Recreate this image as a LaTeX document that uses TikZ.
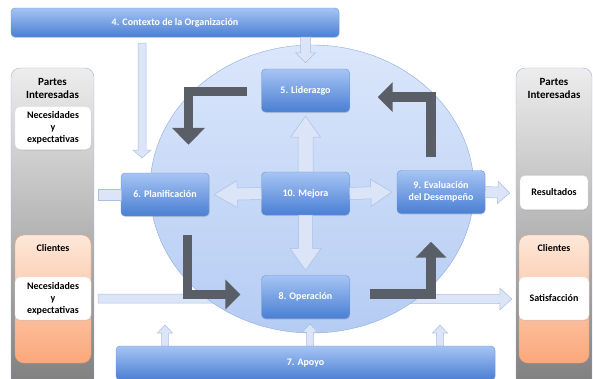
\documentclass[tikz,border=0pt]{standalone}
\usepackage{fontspec}
\setmainfont{Carlito}
\usetikzlibrary{shadows,arrows.meta,shapes,positioning,calc}
\definecolor{boxtop}{HTML}{A6C4F4}
\definecolor{boxbot}{HTML}{4A7FD3}
\definecolor{boxline}{HTML}{6C94D6}
\definecolor{circtop}{HTML}{DAE6FB}
\definecolor{circbot}{HTML}{B5CCF3}
\definecolor{circline}{HTML}{8EAADB}
\definecolor{lightfill}{HTML}{DCE5F7}
\definecolor{lightline}{HTML}{A9BFE6}
\definecolor{darkarr}{HTML}{5A5E66}
\definecolor{graytop}{HTML}{EDEDED}
\definecolor{graybot}{HTML}{7B7B7B}
\definecolor{panelline}{HTML}{9DB2D4}
\definecolor{ortop}{HTML}{FDE8D9}
\definecolor{orbot}{HTML}{FBA77A}
\definecolor{orline}{HTML}{F2A574}
\tikzset{
box/.style={draw=boxline,rounded corners=4pt,top color=boxtop,bottom color=boxbot,text=white,font=\fontsize{10}{12}\selectfont\bfseries,align=center,minimum width=88pt,minimum height=43pt,inner sep=1pt,drop shadow={opacity=0.25,shadow xshift=0.5pt,shadow yshift=-1pt}},
panel/.style={draw=panelline,rounded corners=9pt,top color=graytop,bottom color=graybot,minimum width=#1,minimum height=330pt,inner sep=0pt},
orbox/.style={draw=orline,rounded corners=9pt,top color=ortop,bottom color=orbot,minimum width=#1,minimum height=128pt,inner sep=0pt},
wbox/.style={draw=black!12,fill=white,rounded corners=5pt,minimum width=#1,minimum height=43pt,align=center,inner sep=1pt,font=\fontsize{10}{12}\selectfont\bfseries,drop shadow={opacity=0.2,shadow xshift=0.5pt,shadow yshift=-1pt}},
ptext/.style={align=center,inner sep=0pt,font=\fontsize{10}{13}\selectfont\bfseries},
light/.style={fill=lightfill,draw=lightline,line width=0.5pt},
dark/.style={draw=darkarr,line width=#1,line join=miter},
}
% block arrow: [style]{from}{to}{half shaft}{half head}{head length}
\newcommand{\blockarrow}[6][]{%
  \coordinate (ba-h) at ($(#3)!#6!(#2)$);
  \filldraw[light,#1] ($(#2)!#4!90:(#3)$) -- ($(ba-h)!#4!90:(#3)$) -- ($(ba-h)!#5!90:(#3)$)
    -- (#3) -- ($(ba-h)!#5!-90:(#3)$) -- ($(ba-h)!#4!-90:(#3)$) -- ($(#2)!#4!-90:(#3)$) -- cycle;}

\begin{document}
\begin{tikzpicture}[x=1pt,y=-1pt]
  \useasboundingbox (0,0) rectangle (593,378);

  % interested parties
  \node[panel=83pt] (lp) at (52.5,233) {};
  \node[panel=76pt] (rp) at (554,233) {};
  \node[ptext,font=\fontsize{11}{13}\selectfont\bfseries] (lpt) at (52.5,88.5) {Partes\\Interesadas};
  \node[ptext,font=\fontsize{11}{13}\selectfont\bfseries] (rpt) at (554,88.5) {Partes\\Interesadas};
  \node[wbox=76pt] (lnec) at (53,128) {Necesidades\\y\\expectativas};
  \node[wbox=68pt,minimum height=34pt] (rres) at (554,192.5) {Resultados};
  \node[orbox=76pt] (lcli) at (53,299) {};
  \node[orbox=70pt] (rcli) at (554,299) {};
  \node[ptext] (lclit) at (53,248) {Clientes};
  \node[ptext] (rclit) at (554,248) {Clientes};
  \node[wbox=76pt] (lnec2) at (53,298.5) {Necesidades\\y\\expectativas};
  \node[wbox=70pt] (rsat) at (554,298.5) {Satisfacción};

  % context and support bars
  \node[box,minimum width=328pt,minimum height=29pt] (ctx) at (175,22.5) {4. Contexto de la Organización};
  \node[box,minimum width=379pt,minimum height=34pt] (apo) at (305.5,363) {7. Apoyo};

  \coordinate (c1) at ($(lp.east |- 0,298.5)+(4,0)$);
  \coordinate (c2) at ($(rp.west |- 0,299)+(-4,0)$);
  \blockarrow{c1}{c2}{4.5pt}{11pt}{12pt}
  \coordinate (c3) at (142,43);
  \coordinate (c4) at (142,158);
  \blockarrow{c3}{c4}{4pt}{9pt}{8pt}

  % PDCA circle
  \node[ellipse,draw=circline,top color=circtop,bottom color=circbot,minimum width=324pt,minimum height=288pt] (cir) at (312,189) {};

  % processes
  \node[box] (lid) at (305.5,90.5) {5. Liderazgo};
  \node[box] (pla) at (165,194.5) {6. Planificación};
  \node[box] (mej) at (305.5,193.5) {10. Mejora};
  \node[box] (eva) at (441,192) {9. Evaluación\\del Desempeño};
  \node[box] (ope) at (305.5,297) {8. Operación};

  \filldraw[light] ($(lp.east |- pla.west)+(4,-5.5)$) rectangle ($(pla.west)+(0,5.5)$);
  \coordinate (c5) at (ctx.south -| lid.north);
  \coordinate (c6) at ($(lid.north)+(0,-6)$);
  \blockarrow{c5}{c6}{5pt}{10pt}{10pt}
  \coordinate (m1) at ($(lid.south)+(0,4)$);
  \blockarrow{mej.north}{m1}{7.5pt}{15pt}{21pt}
  \coordinate (m2) at ($(pla.east)+(5,0)$);
  \blockarrow{mej.west}{m2}{6pt}{13.5pt}{23pt}
  \coordinate (m3) at ($(eva.west)+(-5,0)$);
  \blockarrow{mej.east}{m3}{6pt}{13.5pt}{21pt}
  \coordinate (m4) at ($(ope.north)+(0,-5)$);
  \blockarrow{mej.south}{m4}{7pt}{15.5pt}{22pt}
  \coordinate (e1) at ($(rp.west |- eva.east)+(-6,1)$);
  \blockarrow{eva.east}{e1}{5.5pt}{11pt}{12pt}
  \foreach \x/\t in {165/325,310/324,440/325} {
    \coordinate (s1) at (apo.north -| \x,0);
    \coordinate (s2) at (\x,\t);
    \blockarrow{s1}{s2}{3.5pt}{7.5pt}{8pt}
  }

  % cycle arrows
  \coordinate (d1) at ($(lid.west)+(-14,1)$);
  \coordinate (d2) at ($(pla.north)+(23.5,-28)$);
  \draw[dark=9.5pt,-{Triangle[width=32pt,length=17pt]}] (d1) -| (d2);
  \coordinate (d3) at ($(eva.north)+(-10,-13)$);
  \coordinate (d4) at ($(lid.east)+(28,6.5)$);
  \draw[dark=10pt,-{Triangle[width=29pt,length=15pt]}] (d3) |- (d4);
  \coordinate (d5) at ($(pla.south)+(22.5,19)$);
  \coordinate (d6) at ($(ope.west)+(-21,-2.5)$);
  \draw[dark=9pt,-{Triangle[width=29pt,length=15pt]}] (d5) |- (d6);
  \coordinate (d7) at ($(ope.east)+(20,-3)$);
  \coordinate (d8) at ($(eva.south)+(-10,28)$);
  \draw[dark=10pt,-{Triangle[width=30pt,length=16pt]}] (d7) -| (d8);
\end{tikzpicture}
\end{document}
